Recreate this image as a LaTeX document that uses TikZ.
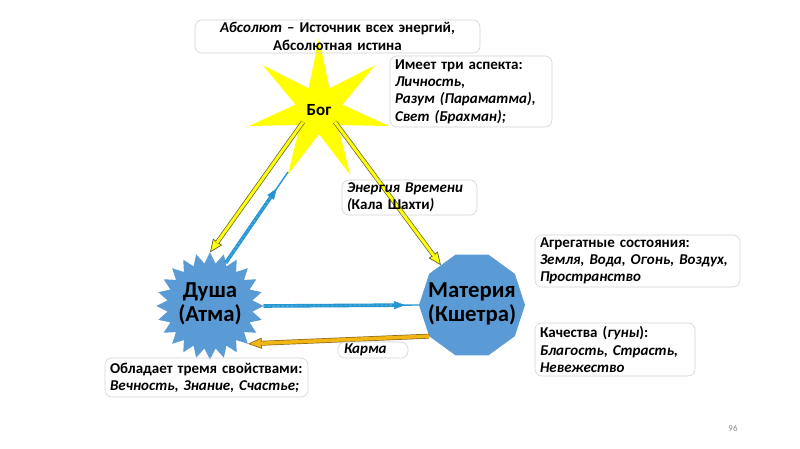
\documentclass[tikz,border=0pt]{standalone}
\usepackage{fontspec}
\setmainfont{Carlito}
\usetikzlibrary{shapes.geometric,arrows.meta,calc}
\definecolor{shapeblue}{RGB}{91,155,213}
\definecolor{godyellow}{RGB}{255,255,0}
\definecolor{ydark}{RGB}{95,95,45}
\definecolor{ropeblue}{RGB}{35,150,210}
\definecolor{ropelight}{RGB}{150,205,235}
\definecolor{goldfill}{RGB}{242,182,20}
\definecolor{golddark}{RGB}{140,105,30}
\definecolor{boxline}{RGB}{212,212,212}
\begin{document}
\begin{tikzpicture}[x=1pt,y=-1pt,
  every node/.style={inner sep=0pt,outer sep=0pt},
  infobox/.style={draw=boxline,line width=0.6pt,rounded corners=7pt,anchor=north west,
    inner xsep=5pt,align=left,font=\fontsize{15}{17.3}\selectfont\bfseries},
  godstar/.style={star,star points=7,star point ratio=3,minimum size=144pt,fill=godyellow,
    font=\fontsize{17}{20}\selectfont\bfseries},
  soulstar/.style={star,star points=24,star point ratio=1.25,minimum size=107pt,fill=shapeblue},
  matterpoly/.style={regular polygon,regular polygon sides=10,minimum size=106pt,fill=shapeblue},
  bigtext/.style={align=center,font=\fontsize{22.8}{24}\selectfont\bfseries},
  yshaft/.style={draw=ydark,line width=0.7pt,double=godyellow,double distance=3pt},
  ytip/.style={draw=ydark,line width=0.7pt,-{Triangle[length=13pt,width=11pt,fill=godyellow]}},
  gshaft/.style={draw=golddark,line width=0.7pt,double=goldfill,double distance=3.5pt},
  gtip/.style={draw=golddark,line width=0.7pt,-{Triangle[length=14pt,width=11pt,fill=goldfill]}},
  rope/.style={draw=ropeblue,line width=3.6pt,
    postaction={draw=ropelight,line width=0.9pt,dash pattern=on 2.5pt off 2pt}},
  ropethin/.style={draw=ropeblue,line width=1.4pt},
  bluetip/.style={draw=ropeblue,line width=0.5pt,-{Triangle[length=11pt,width=8pt,fill=ropeblue]}}
]
\fill[white] (0,0) rectangle (800,449);
\useasboundingbox (0,0) rectangle (800,449);

% main shapes
\node[godstar] (god) at (319,110) {Бог};
\node[soulstar] (soul) at (210,306) {};
\node[bigtext] (soultext) at (210,304) {Душа\\(Атма)};
\node[matterpoly] (matter) at (472,305) {};
\node[bigtext] (mattertext) at (472,304) {Материя\\(Кшетра)};

% yellow arrows from God
\coordinate (gA) at ($(god)+(-16,12)$);
\coordinate (gB) at ($(god)+(16,12)$);
\draw[ytip] (gA) -- (soul.north);
\draw[yshaft,shorten >=12pt] (gA) -- (soul.north);
\draw[ytip] (gB) -- (matter.128);
\draw[yshaft,shorten >=12pt] (gB) -- (matter.128);

% blue arrow soul -> up
\coordinate (bup) at (288,172);
\coordinate (bmid) at ($(soul.70)!0.82!(bup)$);
\draw[ropethin] (soul.70) -- (bup);
\draw[rope,shorten >=8pt] (soul.70) -- (bmid);
\draw[bluetip] (soul.70) -- (bmid);

% blue arrow soul -> matter
\coordinate (hmid) at ($(soul.east)!0.91!(matter.180)$);
\draw[ropethin] (soul.east) -- (matter.180);
\draw[rope,shorten >=8pt] (soul.east) -- (hmid);
\draw[bluetip] (soul.east) -- (hmid);

% gold arrow matter -> soul (karma)
\draw[gtip] (matter.216) -- (soul.315);
\draw[gshaft,shorten >=13pt] (matter.216) -- (soul.315);

% text boxes
\node[infobox,align=center,minimum width=285pt,minimum height=33pt,text width=275pt] (absbox) at (195,20)
  {\textit{Абсолют} – Источник всех энергий,\\Абсолютная истина};
\node[infobox,minimum width=162pt,minimum height=71pt,text width=152pt] (aspbox) at (390,56)
  {Имеет три аспекта:\\\textit{Личность,}\\\textit{Разум (Параматма),}\\\textit{Свет (Брахман);}};
\node[infobox,minimum width=135pt,minimum height=35pt,text width=125pt] (timebox) at (342,180)
  {\textit{Энергия Времени}\\\textit{(}Кала Шахти\textit{)}};
\node[infobox,minimum width=205pt,minimum height=52pt,text width=195pt] (statebox) at (535,235)
  {Агрегатные состояния:\\\textit{Земля, Вода, Огонь, Воздух,}\\\textit{Пространство}};
\node[infobox,minimum width=160pt,minimum height=53pt,text width=150pt] (gunabox) at (535,323)
  {Качества (\textit{гуны}):\\\textit{Благость, Страсть,}\\\textit{Невежество}};
\node[infobox,minimum width=70pt,minimum height=16pt,text width=58pt,inner xsep=6pt] (karmabox) at (338,342)
  {\textit{Карма}};
\node[infobox,minimum width=203pt,minimum height=39pt,text width=193pt] (propbox) at (105,358)
  {Обладает тремя свойствами:\\\textit{Вечность, Знание, Счастье;}};

\node[font=\fontsize{9}{10}\selectfont,text=black!45] (pagenum) at (733,428) {96};
\end{tikzpicture}
\end{document}
